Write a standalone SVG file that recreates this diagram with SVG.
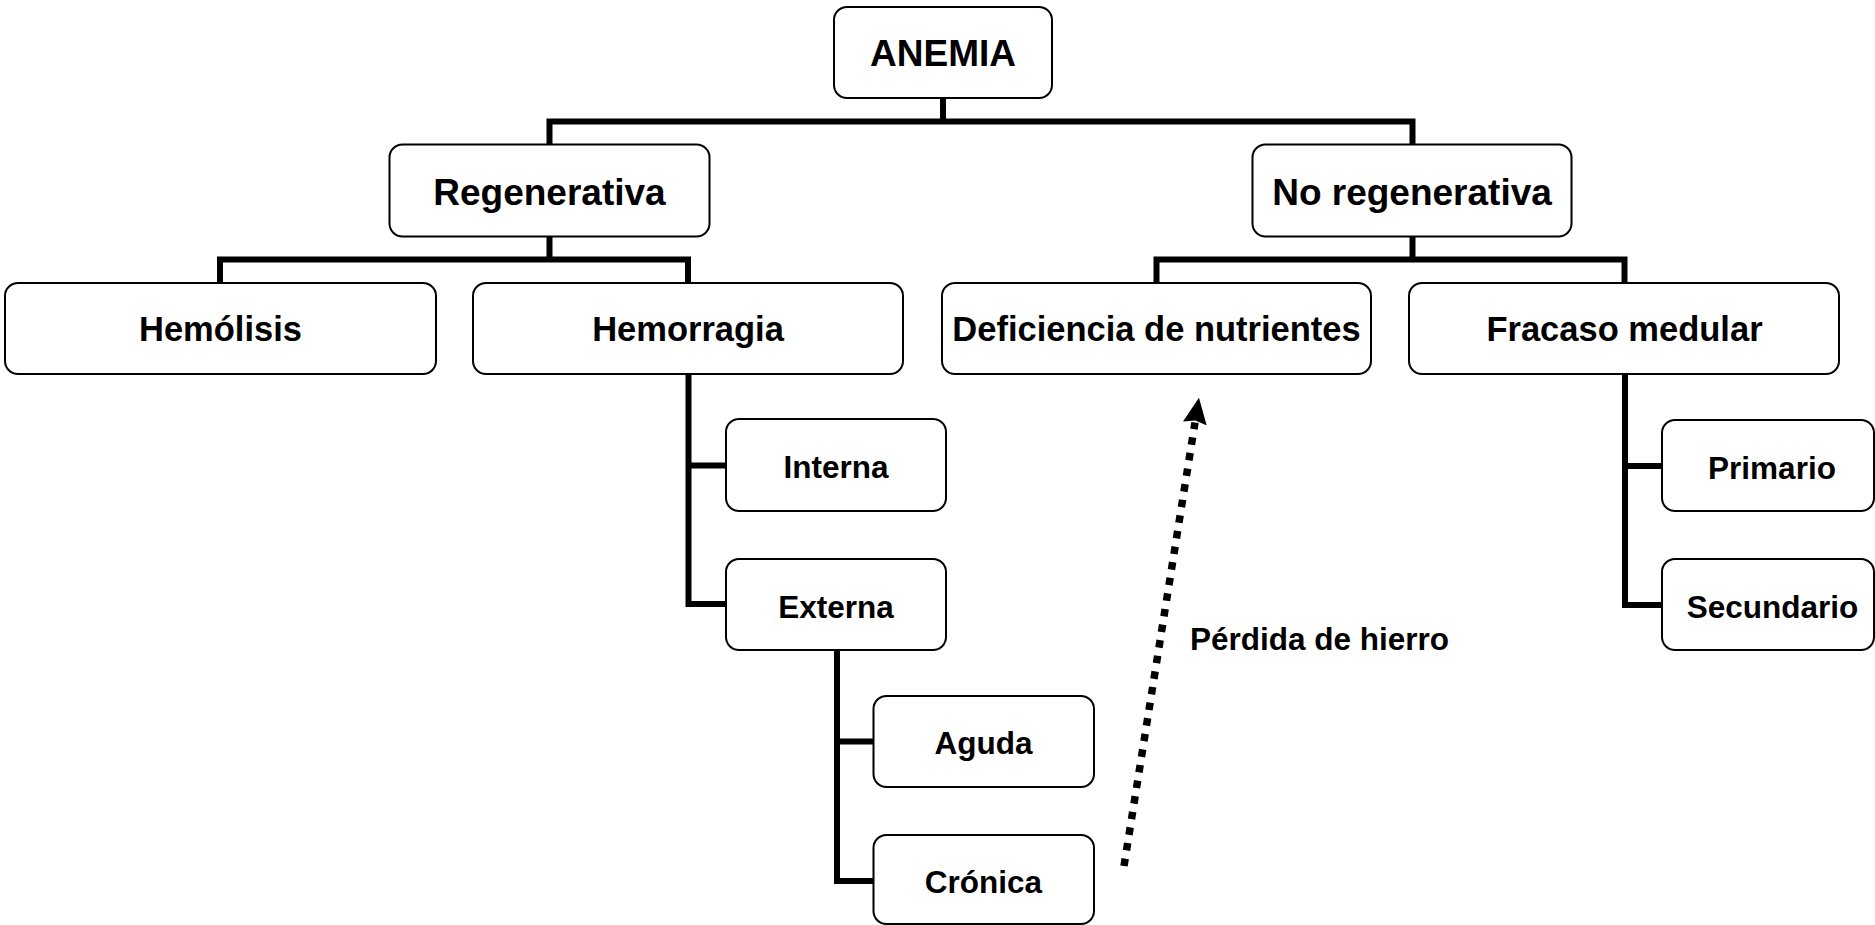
<svg xmlns="http://www.w3.org/2000/svg" width="1875" height="925" viewBox="0 0 1875 925">
  <defs>
    <style>
      .box { fill: #ffffff; stroke: #000000; stroke-width: 2; }
      .lbl { font-family: "Liberation Sans", Arial, sans-serif; font-weight: bold; fill: #000000; text-anchor: middle; }
      .l1 { font-size: 37px; }
      .l3 { font-size: 34.5px; }
      .l4 { font-size: 31.5px; }
      .conn { fill: none; stroke: #000000; stroke-width: 6; stroke-linejoin: miter; stroke-linecap: square; }
      .dash { fill: none; stroke: #000000; stroke-width: 7.5; stroke-dasharray: 7.5 8.3; }
    </style>
    <marker id="arrowhead" markerUnits="userSpaceOnUse" markerWidth="26" markerHeight="24" viewBox="0 0 26 24" refX="1" refY="12" orient="auto">
      <path d="M0,0 L26,12 L0,24 L3,12 z" fill="#000000"/>
    </marker>
  </defs>
  <rect width="1875" height="925" fill="#ffffff"/>

  <g id="connectors">
    <path class="conn" d="M943,98 V121.5 M549.5,121.5 H1412.5 M549.5,121.5 V144.5 M1412.5,121.5 V144.5"/>
    <path class="conn" d="M549.5,236 V259.5 M220,259.5 H688 M220,259.5 V283 M688,259.5 V283"/>
    <path class="conn" d="M1412.5,236 V259.5 M1156.5,259.5 H1624.5 M1156.5,259.5 V283 M1624.5,259.5 V283"/>
    <path class="conn" d="M688.5,374 V604 H726 M688.5,465.5 H726"/>
    <path class="conn" d="M837,650 V881 H873 M837,741.5 H873"/>
    <path class="conn" d="M1625,374 V605 H1662 M1625,466 H1662"/>
    <line class="dash" x1="1124" y1="866" x2="1195" y2="422.5" marker-end="url(#arrowhead)"/>
  </g>

  <g id="n-anemia">
    <rect class="box" x="834" y="7" width="218" height="91" rx="13"/>
    <text class="lbl l1" x="943" y="66">ANEMIA</text>
  </g>
  <g id="n-regenerativa">
    <rect class="box" x="389.5" y="144.5" width="320" height="92" rx="13"/>
    <text class="lbl l1" x="549.5" y="204.5">Regenerativa</text>
  </g>
  <g id="n-noregenerativa">
    <rect class="box" x="1252.5" y="144.5" width="319" height="92" rx="13"/>
    <text class="lbl l1" x="1412" y="204.5">No regenerativa</text>
  </g>
  <g id="n-hemolisis">
    <rect class="box" x="5" y="283" width="431" height="91" rx="13"/>
    <text class="lbl l3" x="220.5" y="341">Hemólisis</text>
  </g>
  <g id="n-hemorragia">
    <rect class="box" x="473" y="283" width="430" height="91" rx="13"/>
    <text class="lbl l3" x="688" y="341">Hemorragia</text>
  </g>
  <g id="n-deficiencia">
    <rect class="box" x="942" y="283" width="429" height="91" rx="13"/>
    <text class="lbl l3" x="1156.5" y="341">Deficiencia de nutrientes</text>
  </g>
  <g id="n-fracaso">
    <rect class="box" x="1409" y="283" width="430" height="91" rx="13"/>
    <text class="lbl l3" x="1624.5" y="341">Fracaso medular</text>
  </g>
  <g id="n-interna">
    <rect class="box" x="726" y="419" width="220" height="92" rx="13"/>
    <text class="lbl l4" x="836" y="478">Interna</text>
  </g>
  <g id="n-externa">
    <rect class="box" x="726" y="559" width="220" height="91" rx="13"/>
    <text class="lbl l4" x="836" y="617.5">Externa</text>
  </g>
  <g id="n-aguda">
    <rect class="box" x="873.5" y="696" width="220.5" height="91" rx="13"/>
    <text class="lbl l4" x="983.5" y="754">Aguda</text>
  </g>
  <g id="n-cronica">
    <rect class="box" x="873.5" y="835" width="220.5" height="89" rx="13"/>
    <text class="lbl l4" x="983.5" y="892.5">Crónica</text>
  </g>
  <g id="n-primario">
    <rect class="box" x="1662" y="420" width="212" height="91" rx="13"/>
    <text class="lbl l4" x="1772" y="478.5">Primario</text>
  </g>
  <g id="n-secundario">
    <rect class="box" x="1662" y="559" width="212" height="91" rx="13"/>
    <text class="lbl l4" x="1772.5" y="617.5">Secundario</text>
  </g>
  <g id="label-perdida">
    <text class="lbl l4" x="1319.5" y="649.5">Pérdida de hierro</text>
  </g>
</svg>
